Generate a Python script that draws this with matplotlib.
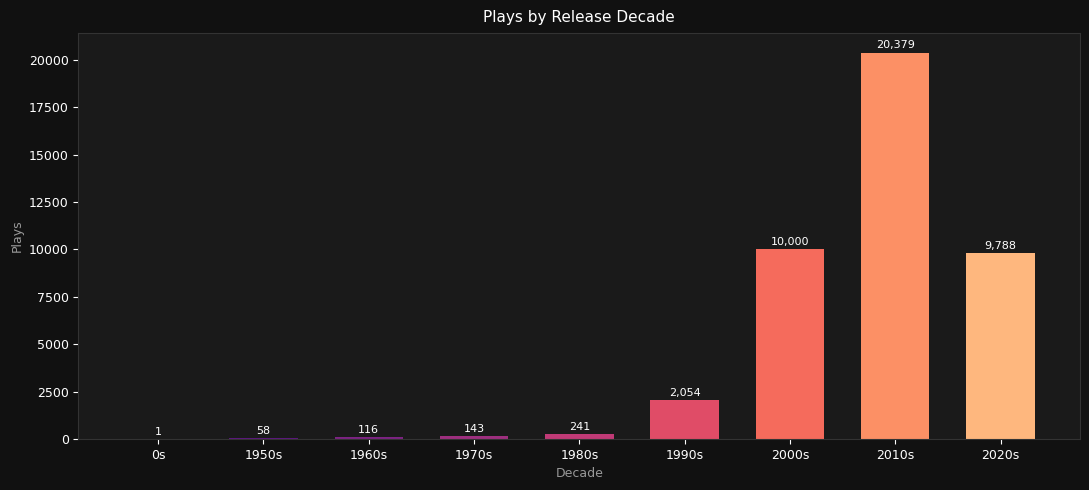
import matplotlib
matplotlib.use('Agg')
import matplotlib.pyplot as plt
import numpy as np

decades = ['0s', '1950s', '1960s', '1970s', '1980s', '1990s', '2000s', '2010s', '2020s']
plays = [1, 58, 116, 143, 241, 2054, 10000, 20379, 9788]

# magma, skipping the darkest and lightest ends
colors = plt.cm.magma(np.linspace(0.2, 0.85, len(decades)))

fig, ax = plt.subplots(figsize=(10.89, 4.9), dpi=100)
fig.patch.set_facecolor('#111111')
ax.set_facecolor('#1a1a1a')

x = range(len(decades))
bars = ax.bar(x, plays, width=0.65, color=colors)

for b, v in zip(bars, plays):
    ax.text(b.get_x() + b.get_width() / 2, b.get_height() + 120, f'{v:,}',
            ha='center', va='bottom', color='white', fontsize=8)

ax.set_xticks(list(x))
ax.set_xticklabels(decades)
ax.set_title('Plays by Release Decade', color='white', fontsize=11, pad=8)
ax.set_xlabel('Decade', color='#999999', fontsize=9)
ax.set_ylabel('Plays', color='#999999', fontsize=9)
ax.tick_params(colors='white', labelsize=9)
for s in ax.spines.values():
    s.set_color('#333333')

plt.subplots_adjust(left=0.072, right=0.992, top=0.932, bottom=0.104)
plt.savefig('out.png', facecolor=fig.get_facecolor())
